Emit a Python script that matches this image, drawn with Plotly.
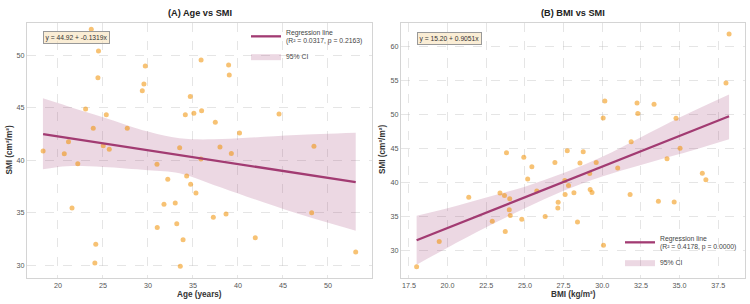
import plotly.graph_objects as go

# ---------------- data ----------------
age = [23.7, 24.5, 24.44, 29.7, 29.55, 29.37, 23.07, 25.37, 23.92, 27.7,
       21.17, 18.35, 35.9, 34.7, 34.15, 35.1, 35.96, 38.96, 39.03, 37.48,
       40.17, 44.56, 33.52, 38.0, 48.44, 20.7, 22.2, 21.56, 24.2, 24.1,
       31.0, 32.2, 34.3, 34.74, 35.33, 31.78, 33.03, 33.2, 31.03, 33.9,
       33.59, 37.26, 38.67, 35.88, 39.26, 41.92, 48.19, 53.08, 25.03, 25.7]
smi_age = [52.5, 50.43, 47.88, 49.0, 47.28, 46.64, 44.9, 44.35, 43.05, 43.05,
           41.77, 40.9, 49.57, 46.1, 44.35, 44.48, 44.73, 49.1, 48.14, 43.63,
           42.6, 44.42, 41.2, 41.27, 41.34, 40.63, 39.66, 35.45, 31.98, 30.2,
           39.63, 38.2, 38.5, 37.71, 36.88, 35.8, 35.92, 33.95, 33.6, 32.42,
           29.89, 34.56, 34.88, 40.12, 40.65, 32.61, 35.0, 31.25, 41.4, 41.05]

bmi = [38.2, 38.0, 30.17, 30.06, 32.25, 32.3, 33.35, 34.77, 31.87, 35.03,
       27.74, 28.77, 23.81, 24.93, 26.94, 28.56, 29.61, 25.45, 31.0, 34.19,
       25.18, 27.58, 27.82, 29.19, 25.77, 29.22, 29.34, 28.17, 27.6, 23.39,
       23.68, 24.02, 21.37, 27.15, 27.13, 23.99, 24.05, 26.31, 22.89, 24.8,
       28.4, 23.73, 19.46, 30.08, 18.0, 31.8, 33.63, 34.65, 36.47, 36.7]
smi_bmi = [61.92, 54.69, 52.04, 49.53, 51.74, 50.18, 51.55, 49.48, 46.02, 45.06,
           44.69, 44.56, 44.4, 43.75, 42.95, 42.89, 42.95, 42.33, 42.15, 43.5,
           40.51, 40.29, 39.58, 41.35, 38.74, 38.97, 38.55, 38.5, 38.23, 38.47,
           38.08, 37.6, 37.83, 37.1, 36.25, 36.01, 35.13, 34.98, 34.29, 34.59,
           34.19, 32.77, 31.3, 30.75, 27.6, 38.25, 37.24, 37.14, 41.37, 40.41]

# regression coefficients (intercept, slope) and fit stats (R², p)
coef_age = [44.92, -0.1319]
coef_bmi = [15.20, 0.9051]
r2_p_age = [0.0317, 0.2163]
r2_p_bmi = [0.4178, 0.0000]

# 95% CI band
ci_age_x = [18.33, 21.0, 25.0, 30.0, 33.5, 37.3, 41.0, 46.5, 53.08]
ci_age_up = [45.92, 45.19, 44.11, 42.74, 42.1, 42.0, 42.15, 42.41, 42.63]
ci_age_lo = [39.14, 39.43, 39.36, 39.05, 38.76, 37.64, 36.53, 34.94, 33.28]

ci_bmi_x = [18.0, 20.0, 22.5, 25.0, 27.5, 30.0, 32.5, 35.0, 38.2]
ci_bmi_up = [35.1, 36.2, 37.8, 39.4, 41.4, 43.8, 46.7, 49.6, 53.0]
ci_bmi_lo = [27.9, 30.4, 33.4, 36.2, 38.8, 40.9, 42.6, 44.2, 46.4]

# ---------------- style ----------------
FONT = "Liberation Sans, Arial, sans-serif"
PT_COLOR = "rgba(241,143,1,0.55)"
LINE_COLOR = "#A23B72"
BAND_COLOR = "rgba(162,59,114,0.2)"

fig = go.Figure()


def add_panel(xs, ys, cx, cup, clo, coef, stats, xa, ya, legend):
    # band
    fig.add_trace(go.Scatter(x=cx, y=clo, mode="lines", line=dict(width=0, shape="spline"),
                             showlegend=False, hoverinfo="skip", xaxis=xa, yaxis=ya))
    fig.add_trace(go.Scatter(x=cx, y=cup, mode="lines", line=dict(width=0, shape="spline"),
                             fill="tonexty", fillcolor=BAND_COLOR, name="95% CI",
                             legend=legend, xaxis=xa, yaxis=ya))
    # points
    fig.add_trace(go.Scatter(x=xs, y=ys, mode="markers",
                             marker=dict(color=PT_COLOR, size=5, line=dict(width=0)),
                             showlegend=False, xaxis=xa, yaxis=ya))
    # regression line
    x0, x1 = min(xs), max(xs)
    lx = [x0, x1]
    ly = [coef[0] + coef[1] * v for v in lx]
    fig.add_trace(go.Scatter(x=lx, y=ly, mode="lines", line=dict(color=LINE_COLOR, width=2.3),
                             name=f"Regression line<br>(R² = {stats[0]:.4f}, p = {stats[1]:.4f})",
                             legend=legend, xaxis=xa, yaxis=ya))


add_panel(age, smi_age, ci_age_x, ci_age_up, ci_age_lo, coef_age, r2_p_age, "x", "y", "legend")
add_panel(bmi, smi_bmi, ci_bmi_x, ci_bmi_up, ci_bmi_lo, coef_bmi, r2_p_bmi, "x2", "y2", "legend2")

W, H = 750, 304
ydom = [1 - 278 / H, 1 - 22.5 / H]
axis_common = dict(showline=True, mirror=True, linecolor="#d4d4d4", linewidth=1.2,
                   showgrid=True, gridcolor="rgba(180,180,180,0.35)", griddash="dash", gridwidth=0.8,
                   zeroline=False, ticks="", tickfont=dict(size=7.2, color="#555", family=FONT))

fig.update_layout(
    width=W, height=H, margin=dict(l=0, r=0, t=0, b=0),
    paper_bgcolor="white", plot_bgcolor="white",
    font=dict(family=FONT, color="#333"),
    xaxis=dict(domain=[27 / W, 372 / W], range=[16.56, 54.89], tickvals=[20, 25, 30, 35, 40, 45, 50],
               anchor="y", **axis_common),
    yaxis=dict(domain=ydom, range=[28.77, 53.15], tickvals=[30, 35, 40, 45, 50], anchor="x", **axis_common),
    xaxis2=dict(domain=[401 / W, 745 / W], range=[16.99, 39.23],
                tickvals=[17.5, 20, 22.5, 25, 27.5, 30, 32.5, 35, 37.5], tickformat=".1f",
                anchor="y2", **axis_common),
    yaxis2=dict(domain=ydom, range=[25.93, 63.6], tickvals=[30, 35, 40, 45, 50, 55, 60], anchor="x2",
                **axis_common),
    legend=dict(x=368 / W, y=1 - 21 / H, xanchor="right", yanchor="top", bgcolor="rgba(0,0,0,0)",
                font=dict(size=6.8, color="#444", family=FONT), itemwidth=30, tracegroupgap=0,
                traceorder="reversed"),
    legend2=dict(x=742 / W, y=1 - 277 / H, xanchor="right", yanchor="bottom", bgcolor="rgba(0,0,0,0)",
                 font=dict(size=6.8, color="#444", family=FONT), itemwidth=30, tracegroupgap=0,
                 traceorder="reversed"),
    showlegend=True,
)

ann = []
# titles
ann.append(dict(text="<b>(A) Age vs SMI</b>", x=199.5 / W, y=1 - 12.5 / H, xref="paper", yref="paper",
                showarrow=False, font=dict(size=9.2, color="#222", family=FONT), xanchor="center", yanchor="middle"))
ann.append(dict(text="<b>(B) BMI vs SMI</b>", x=573 / W, y=1 - 12.5 / H, xref="paper", yref="paper",
                showarrow=False, font=dict(size=9.2, color="#222", family=FONT), xanchor="center", yanchor="middle"))
# axis titles
ann.append(dict(text="<b>Age (years)</b>", x=199.5 / W, y=1 - 294.5 / H, xref="paper", yref="paper",
                showarrow=False, font=dict(size=8.2, color="#333", family=FONT), xanchor="center", yanchor="middle"))
ann.append(dict(text="<b>BMI (kg/m²)</b>", x=573 / W, y=1 - 294.5 / H, xref="paper", yref="paper",
                showarrow=False, font=dict(size=8.2, color="#333", family=FONT), xanchor="center", yanchor="middle"))
ann.append(dict(text="<b>SMI (cm²/m²)</b>", x=8.5 / W, y=1 - 150 / H, xref="paper", yref="paper", textangle=-90,
                showarrow=False, font=dict(size=8.2, color="#333", family=FONT), xanchor="center", yanchor="middle"))
ann.append(dict(text="<b>SMI (cm²/m²)</b>", x=382 / W, y=1 - 150 / H, xref="paper", yref="paper", textangle=-90,
                showarrow=False, font=dict(size=8.2, color="#333", family=FONT), xanchor="center", yanchor="middle"))
# equation boxes
ann.append(dict(text=f"y = {coef_age[0]:.2f} + {coef_age[1]:.4f}x", x=42.5 / W, y=1 - 37.5 / H,
                xref="paper", yref="paper", showarrow=False, xanchor="left", yanchor="middle",
                font=dict(size=6.7, color="#333", family=FONT), bgcolor="rgba(245,222,179,0.55)",
                bordercolor="#999", borderwidth=1, borderpad=1.5))
ann.append(dict(text=f"y = {coef_bmi[0]:.2f} + {coef_bmi[1]:.4f}x", x=416.5 / W, y=1 - 38 / H,
                xref="paper", yref="paper", showarrow=False, xanchor="left", yanchor="middle",
                font=dict(size=6.7, color="#333", family=FONT), bgcolor="rgba(245,222,179,0.55)",
                bordercolor="#999", borderwidth=1, borderpad=1.5))
fig.update_layout(annotations=ann)

fig.write_html("out.html")
